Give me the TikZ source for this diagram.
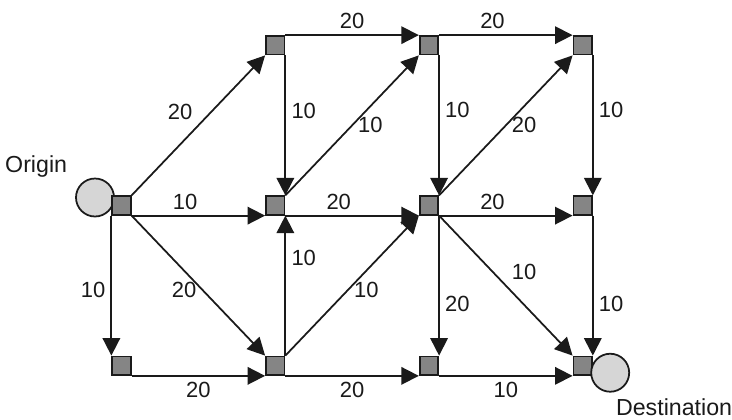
\documentclass[tikz,border=0pt]{standalone}
\usepackage{fontspec}
\setmainfont{Liberation Sans}
\usetikzlibrary{
  arrows.meta,
  backgrounds,
  positioning
}
\definecolor{netInk}{HTML}{1A1A1A}
\definecolor{netSquare}{HTML}{858585}
\definecolor{netDisc}{HTML}{D6D6D6}
\tikzset{
  every node/.style={text=netInk},
  junction/.style={
    draw=netInk,
    line width=1pt,
    fill=netSquare,
    minimum size=0.37cm,
    inner sep=0pt
  },
  site/.style={
    circle,
    draw=netInk,
    line width=1pt,
    fill=netDisc,
    minimum size=0.76cm,
    inner sep=0pt
  },
  weight/.style={
    font=\fontsize{12.5}{14}\selectfont,
    inner sep=3pt
  },
  tag/.style={
    font=\fontsize{13.2}{15}\selectfont,
    inner sep=0pt
  },
  link/.style={
    -{Triangle[length=3.5mm,width=3.5mm]},
    line width=1pt,
    draw=netInk
  }
}

\begin{document}
\begin{tikzpicture}[x=0.02cm, y=-0.02cm, node distance=2.8cm and 2.67cm]
  \useasboundingbox (0,0) rectangle (732,419);

  % grid of junctions
  \node[junction] (O) at (121.5,205.5) {};
  \node[junction, right=of O] (D) {};
  \node[junction, right=of D] (E) {};
  \node[junction, right=of E] (F) {};
  \node[junction, above=of D] (A) {};
  \node[junction, above=of E] (B) {};
  \node[junction, above=of F] (C) {};
  \node[junction, below=of O] (G) {};
  \node[junction, below=of D] (H) {};
  \node[junction, below=of E] (I) {};
  \node[junction, below=of F] (J) {};

  \begin{scope}[on background layer]
    \node[site, left=-0.07cm of O, yshift=0.16cm] (origin) {};
  \end{scope}
  \node[site, right=-0.05cm of J, yshift=-0.14cm] (destination) {};
  \node[tag, above left=0.12cm and 0.27cm of origin] (origintxt) {Origin};
  \node[tag, below right=0.24cm and -0.17cm of destination] (desttxt) {Destination};

  % top row
  \draw[link] (O.north east) -- node[weight, above left] {20} (A.south west);
  \draw[link] (A.north east) -- node[weight, above] {20} (B.north west);
  \draw[link] (B.north east) -- node[weight, pos=0.4, above] {20} (C.north west);
  \draw[link] (A.south east) -- node[weight, pos=0.4, right] {10} (D.north east);
  \draw[link] (D.north east) -- node[weight, right] {10} (B.south west);
  \draw[link] (B.south east) -- node[weight, pos=0.39, right] {10} (E.north east);
  \draw[link] (E.north east) -- node[weight, right] {20} (C.south west);
  \draw[link] (C.south east) -- node[weight, pos=0.39, right] {10} (F.north east);

  % middle row
  \draw[link] (O.south east) -- node[weight, pos=0.4, above] {10} (D.south west);
  \draw[link] (D.south east) -- node[weight, pos=0.4, above] {20} (E.south west);
  \draw[link] (E.south east) -- node[weight, pos=0.4, above] {20} (F.south west);
  \draw[link] (O.south west) -- node[weight, pos=0.53, left] {10} (G.north west);
  \draw[link] (O.south east) -- node[weight, pos=0.53, left] {20} (H.north west);
  \draw[link] (H.north east) -- node[weight, pos=0.7, right] {10} (D.south east);
  \draw[link] (H.north east) -- node[weight, pos=0.47, right] {10} (E.south west);
  \draw[link] (E.south east) -- node[weight, pos=0.63, right] {20} (I.north east);
  \draw[link] (E.south east) -- node[weight, above right] {10} (J.north west);
  \draw[link] (F.south east) -- node[weight, pos=0.63, right] {10} (J.north east);

  % bottom row
  \draw[link] (G.south east) -- node[weight, below] {20} (H.south west);
  \draw[link] (H.south east) -- node[weight, below] {20} (I.south west);
  \draw[link] (I.south east) -- node[weight, below] {10} (J.south west);
\end{tikzpicture}
\end{document}
